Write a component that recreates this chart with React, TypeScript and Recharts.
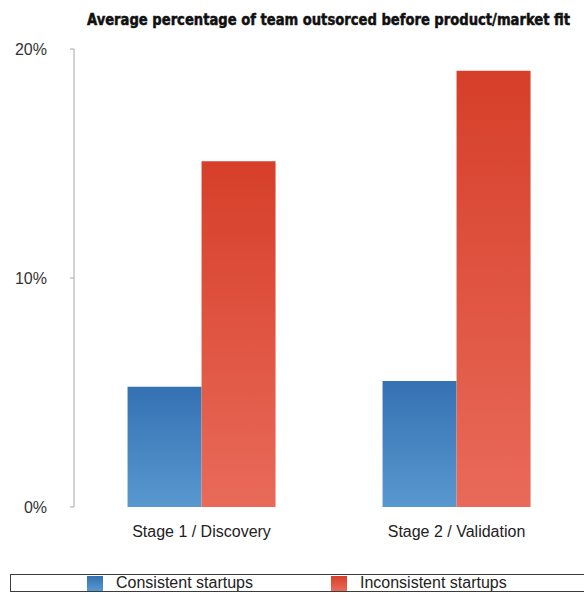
import React from 'react';
import { BarChart, Bar, XAxis, YAxis, Legend } from 'recharts';

// stages on the x axis and the two groups being compared
const stages = ['Stage 1 / Discovery', 'Stage 2 / Validation'];
const consistentShare = [5.25, 5.5];
const inconsistentShare = [15.1, 19.05];
const percentTicks = [0, 10, 20];
const seriesNames = ['Consistent startups', 'Inconsistent startups'];

// band edges for the small tick marks between stages
const stageEdges = [0, ...stages.map((_, i) => i + 1)];

const data = stages.map((stage, i) => ({
    stage,
    consistent: consistentShare[i],
    inconsistent: inconsistentShare[i],
}));

const BLUE_TOP = '#3571b3';
const BLUE_BOTTOM = '#5898cf';
const RED_TOP = '#d63f29';
const RED_BOTTOM = '#e96a5a';
const AXIS = '#a8a8a8';
const FONT = '"Liberation Sans", Arial, sans-serif';

const LegendBox = () => (
    <div
        style={{
            boxSizing: 'border-box',
            height: 18,
            border: '1px solid #3c3c3c',
            display: 'flex',
            alignItems: 'center',
            paddingLeft: 76,
            fontFamily: FONT,
            fontSize: 16,
            lineHeight: '16px',
            color: '#222',
        }}
    >
        <span style={{ width: 16, height: 15, background: `linear-gradient(${BLUE_TOP}, ${BLUE_BOTTOM})`, marginRight: 13 }} />
        <span>{seriesNames[0]}</span>
        <span style={{ width: 16, height: 15, background: `linear-gradient(${RED_TOP}, ${RED_BOTTOM})`, marginLeft: 78, marginRight: 13 }} />
        <span>{seriesNames[1]}</span>
    </div>
);

const App: React.FC = () => {
    return (
        <div style={{ position: 'absolute', left: 0, top: 0, width: 584, height: 593, overflow: 'hidden', background: '#fff' }}>
            <BarChart
                width={584}
                height={593}
                data={data}
                margin={{ top: 49, right: 0, left: 0, bottom: 38 }}
                barCategoryGap="21%"
                barGap={0}
            >
                <defs>
                    <linearGradient id="blueFill" x1="0" y1="0" x2="0" y2="1">
                        <stop offset="0%" stopColor={BLUE_TOP} />
                        <stop offset="100%" stopColor={BLUE_BOTTOM} />
                    </linearGradient>
                    <linearGradient id="redFill" x1="0" y1="0" x2="0" y2="1">
                        <stop offset="0%" stopColor={RED_TOP} />
                        <stop offset="100%" stopColor={RED_BOTTOM} />
                    </linearGradient>
                </defs>
                <text
                    x={87}
                    y={25}
                    textLength={483}
                    lengthAdjust="spacingAndGlyphs"
                    fontFamily='"Liberation Sans Narrow", "DejaVu Sans Condensed", sans-serif'
                    fontWeight={700}
                    fontSize={16}
                    fill="#111"
                    stroke="#111"
                    strokeWidth={0.5}
                >
                    Average percentage of team outsorced before product/market fit
                </text>
                {/* numeric axis only used for the tick marks at the band edges */}
                <XAxis
                    xAxisId="edges"
                    type="number"
                    domain={[0, stages.length]}
                    ticks={stageEdges}
                    allowDataOverflow
                    height={0}
                    tick={false}
                    tickSize={4}
                    stroke={AXIS}
                />
                <XAxis
                    xAxisId="stages"
                    dataKey="stage"
                    height={30}
                    axisLine={false}
                    tickLine={false}
                    tickSize={4}
                    tickMargin={15}
                    tick={{ fontFamily: FONT, fontSize: 16, fill: '#222' }}
                />
                <YAxis
                    width={74}
                    domain={[0, 20]}
                    ticks={percentTicks}
                    tickFormatter={(v) => `${v}%`}
                    tickSize={4}
                    tickMargin={23}
                    stroke={AXIS}
                    tick={{ fontFamily: FONT, fontSize: 16, fill: '#333' }}
                />
                <Legend
                    content={() => <LegendBox />}
                    wrapperStyle={{ left: 10, top: 574, width: 584, height: 18 }}
                />
                <Bar xAxisId="stages" dataKey="consistent" name={seriesNames[0]} fill="url(#blueFill)" isAnimationActive={false} />
                <Bar xAxisId="stages" dataKey="inconsistent" name={seriesNames[1]} fill="url(#redFill)" isAnimationActive={false} />
            </BarChart>
        </div>
    );
};

export default App;
